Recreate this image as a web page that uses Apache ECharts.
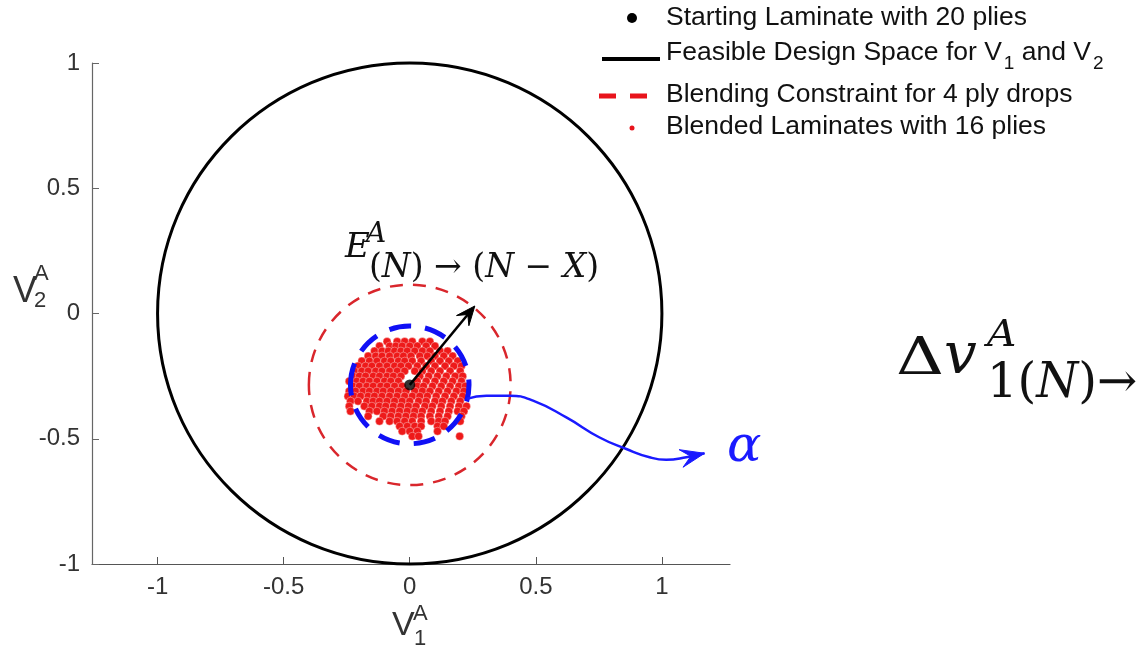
<!DOCTYPE html>
<html>
<head>
<meta charset="utf-8">
<title>Blending constraint</title>
<script src="https://cdn.jsdelivr.net/npm/echarts@6/dist/echarts.min.js"></script>
<style>
html, body { margin: 0; padding: 0; background: #fff; }
#divBlendChart { width: 1147px; height: 650px; }
</style>
</head>
<body>
<div id="divBlendChart"></div>
<script>
var xTicks = [-1, -0.5, 0, 0.5, 1];
var yTicks = [-1, -0.5, 0, 0.5, 1];

// starting laminate with 20 plies
var startPoint = [0, -0.285];

// circles as [cx, cy, r]
var feasibleCircle = [0, 0, 1];
var blendCircle = [0, -0.285, 0.4];
var alphaCircle = [0, -0.285, 0.235];

// arrow start laminate -> blending circle  [x0, y0, x1, y1]
var radiusArrow = [0, -0.285, 0.258, 0.03];

// blue curve going out to alpha
var alphaCurve = [
    [0.225, -0.341], [0.304, -0.328], [0.396, -0.328], [0.489, -0.348],
    [0.621, -0.415], [0.753, -0.495], [0.859, -0.541], [0.951, -0.574],
    [1.017, -0.584], [1.097, -0.574], [1.169, -0.558]
];

// blended laminates with 16 plies, one row per y
var blendedRows = [
    [-0.112, [-0.09, -0.05, -0.02, 0.01, 0.05, 0.08]],
    [-0.130, [-0.12, -0.08, -0.055, -0.03, 0.00, 0.03, 0.065, 0.10]],
    [-0.150, [-0.14, -0.11, -0.085, -0.06, -0.035, -0.01, 0.02, 0.05, 0.08, 0.12, 0.15]],
    [-0.170, [-0.165, -0.135, -0.11, -0.08, -0.05, -0.025, 0.005, 0.04, 0.07, 0.10, 0.135, 0.17]],
    [-0.190, [-0.19, -0.16, -0.13, -0.10, -0.075, -0.045, -0.02, 0.01, 0.045, 0.085, 0.12, 0.155, 0.19]],
    [-0.210, [-0.205, -0.175, -0.15, -0.12, -0.09, -0.06, -0.035, -0.005, 0.03, 0.065, 0.10, 0.14, 0.175, 0.205]],
    [-0.230, [-0.22, -0.19, -0.165, -0.135, -0.11, -0.08, -0.05, -0.02, 0.02, 0.05, 0.085, 0.12, 0.16, 0.20]],
    [-0.250, [-0.225, -0.20, -0.175, -0.145, -0.12, -0.09, -0.065, -0.035, 0.04, 0.075, 0.11, 0.145, 0.18, 0.21]],
    [-0.270, [-0.24, -0.21, -0.185, -0.16, -0.13, -0.10, -0.075, -0.045, 0.03, 0.065, 0.10, 0.135, 0.17, 0.205]],
    [-0.290, [-0.225, -0.20, -0.17, -0.145, -0.115, -0.09, -0.06, -0.03, 0.03, 0.055, 0.09, 0.125, 0.16, 0.195, 0.22]],
    [-0.310, [-0.24, -0.215, -0.185, -0.16, -0.13, -0.105, -0.075, -0.045, -0.015, 0.02, 0.05, 0.08, 0.115, 0.15, 0.185, 0.215]],
    [-0.330, [-0.245, -0.22, -0.195, -0.165, -0.14, -0.11, -0.08, -0.05, -0.02, 0.01, 0.04, 0.07, 0.105, 0.14, 0.175, 0.21]],
    [-0.350, [-0.235, -0.205, -0.17, -0.145, -0.12, -0.09, -0.06, -0.03, 0.00, 0.035, 0.065, 0.10, 0.13, 0.165, 0.20]],
    [-0.370, [-0.24, -0.18, -0.15, -0.12, -0.095, -0.065, -0.035, -0.005, 0.025, 0.06, 0.09, 0.125, 0.16, 0.195, 0.225]],
    [-0.390, [-0.235, -0.16, -0.13, -0.10, -0.07, -0.04, -0.01, 0.02, 0.05, 0.085, 0.12, 0.155, 0.19, 0.215]],
    [-0.410, [-0.165, -0.105, -0.075, -0.045, -0.015, 0.015, 0.045, 0.08, 0.115, 0.15, 0.205]],
    [-0.430, [-0.12, -0.08, -0.05, -0.02, 0.01, 0.045, 0.085, 0.115, 0.14, 0.20]],
    [-0.450, [-0.04, -0.01, 0.02, 0.045, 0.11, 0.135]],
    [-0.470, [-0.03, 0.00, 0.03, 0.11]],
    [-0.490, [0.01, 0.035, 0.198]]
];

var blendedPoints = [];
for (var i = 0; i < blendedRows.length; i++) {
    var xs = blendedRows[i][1];
    for (var j = 0; j < xs.length; j++) {
        blendedPoints.push([xs[j], blendedRows[i][0]]);
    }
}

var SANS = 'Liberation Sans, Arial, sans-serif';
var SERIF = 'DejaVu Serif, Liberation Serif, serif';

function circleRenderer(stroke, width, dash) {
    return function (params, api) {
        var c = api.coord([api.value(0), api.value(1)]);
        var s = api.size([api.value(2), api.value(2)]);
        return {
            type: 'ellipse',
            shape: { cx: c[0], cy: c[1], rx: s[0], ry: s[1] },
            style: { fill: null, stroke: stroke, lineWidth: width, lineDash: dash }
        };
    };
}

function arrowRenderer(color, width, head, half, notch, withShaft) {
    return function (params, api) {
        var p0 = api.coord([api.value(0), api.value(1)]);
        var p1 = api.coord([api.value(2), api.value(3)]);
        var dx = p1[0] - p0[0], dy = p1[1] - p0[1];
        var len = Math.sqrt(dx * dx + dy * dy);
        var ux = dx / len, uy = dy / len;
        var bx = p1[0] - ux * head, by = p1[1] - uy * head;
        var nx = p1[0] - ux * notch, ny = p1[1] - uy * notch;
        var children = [];
        if (withShaft) {
            children.push({
                type: 'line',
                shape: { x1: p0[0], y1: p0[1], x2: nx, y2: ny },
                style: { stroke: color, lineWidth: width }
            });
        }
        children.push({
            type: 'polygon',
            shape: { points: [p1, [bx - uy * half, by + ux * half], [nx, ny], [bx + uy * half, by - ux * half]] },
            style: { fill: color, stroke: color, lineWidth: 1 }
        });
        return { type: 'group', children: children };
    };
}

function textEl(x, y, text, rich, extra, scaleX) {
    var style = { text: text, verticalAlign: 'middle', align: 'left', rich: rich };
    for (var k in extra) style[k] = extra[k];
    return { type: 'text', x: x, y: y, z: 100, scaleX: scaleX || 1, style: style };
}

var legendFont = { fontSize: 26.5, fontFamily: SANS, fill: '#111' };
var legendSub = { fontSize: 19, fontFamily: SANS, fill: '#111', padding: [22, 0, 0, 2] };
var mathN = function (fs) { return { fontSize: fs, fontFamily: SERIF, fill: '#111' }; };
var mathI = function (fs) { return { fontSize: fs, fontFamily: SERIF, fontStyle: 'italic', fill: '#111' }; };

var chart = echarts.init(document.getElementById('divBlendChart'));
var n = alphaCurve.length;
var option = {
    animation: false,
    backgroundColor: '#fff',
    grid: { left: 92, right: 417, top: 63, bottom: 86 },
    xAxis: {
        type: 'value', min: -1.26, max: 1.27,
        axisLine: { show: true, onZero: false, lineStyle: { color: '#555', width: 1.2 } },
        axisTick: { show: true, inside: true, length: 7, customValues: xTicks, lineStyle: { color: '#555' } },
        axisLabel: { customValues: xTicks, fontSize: 24, color: '#333', margin: 11, fontFamily: SANS },
        splitLine: { show: false }
    },
    yAxis: {
        type: 'value', min: -1, max: 1,
        axisLine: { show: true, onZero: false, lineStyle: { color: '#666', width: 1.2 } },
        axisTick: { show: true, inside: true, length: 7, customValues: yTicks, lineStyle: { color: '#666' } },
        axisLabel: { customValues: yTicks, fontSize: 24, color: '#333', margin: 12, fontFamily: SANS },
        splitLine: { show: false }
    },
    graphic: [
        // legend
        { type: 'circle', shape: { cx: 632, cy: 18, r: 5 }, style: { fill: '#000' }, z: 100 },
        textEl(666, 18, 'Starting Laminate with 20 plies', null, legendFont),
        { type: 'line', shape: { x1: 602, y1: 59, x2: 660, y2: 59 }, style: { stroke: '#000', lineWidth: 4 }, z: 100 },
        textEl(666, 53, '{t|Feasible Design Space for V}{s|1}{t| and V}{s|2}', { t: legendFont, s: legendSub }, legendFont),
        { type: 'line', shape: { x1: 599, y1: 96, x2: 650, y2: 96 }, style: { stroke: '#e8141c', lineWidth: 5, lineDash: [17, 14] }, z: 100 },
        textEl(666, 95, 'Blending Constraint for 4 ply drops', null, legendFont),
        { type: 'circle', shape: { cx: 632, cy: 128, r: 2.5 }, style: { fill: '#e8141c' }, z: 100 },
        textEl(666, 127, 'Blended Laminates with 16 plies', null, legendFont),
        // axis names
        textEl(13, 292, 'V', null, { fontSize: 36, fontFamily: SANS, fill: '#333' }),
        textEl(34, 274, 'A', null, { fontSize: 22, fontFamily: SANS, fill: '#333' }),
        textEl(34, 301, '2', null, { fontSize: 22, fontFamily: SANS, fill: '#333' }),
        textEl(392, 626, 'V', null, { fontSize: 34, fontFamily: SANS, fill: '#333' }),
        textEl(413, 614, 'A', null, { fontSize: 22, fontFamily: SANS, fill: '#333' }),
        textEl(414, 639, '1', null, { fontSize: 22, fontFamily: SANS, fill: '#333' }),
        // E annotation
        textEl(345, 248, 'E', null, mathI(34)),
        textEl(366, 235, 'A', null, mathI(28)),
        textEl(369, 268, '{n|(}{i|N}{n|) → (}{i|N}{n| − }{i|X}{n|)}', { n: mathN(33), i: mathI(33) }, { fontSize: 33, fontFamily: SERIF }),
        // alpha
        textEl(727, 448, 'α', null, { fontSize: 51, fontFamily: SERIF, fontStyle: 'italic', fill: '#1a1aff' }),
        // delta v text on the right
        textEl(896, 360, 'Δ', null, mathN(52), 1.28),
        textEl(944, 358, 'v', null, mathI(58)),
        textEl(987, 336, 'A', null, mathI(37), 1.1),
        textEl(987, 385, '{n|1(}{i|N}{n|)→}', { n: mathN(48), i: mathI(48) }, { fontSize: 48, fontFamily: SERIF })
    ],
    series: [
        {
            name: 'Feasible Design Space', type: 'custom', z: 2,
            renderItem: circleRenderer('#000', 3, null),
            data: [feasibleCircle]
        },
        {
            name: 'Blending Constraint', type: 'custom', z: 2,
            renderItem: circleRenderer('#d9262c', 2.5, [13, 10]),
            data: [blendCircle]
        },
        {
            name: 'Blended Laminates', type: 'scatter', z: 3,
            symbolSize: 8,
            itemStyle: { color: '#ee1a1a', borderColor: 'rgba(255,255,255,0.6)', borderWidth: 0.6, opacity: 1 },
            data: blendedPoints
        },
        {
            name: 'alpha circle', type: 'custom', z: 4,
            renderItem: circleRenderer('#1010f5', 5, [22, 14]),
            data: [alphaCircle]
        },
        {
            name: 'alpha curve', type: 'line', z: 4,
            smooth: true, showSymbol: false,
            lineStyle: { color: '#1a1aff', width: 2.5 },
            data: alphaCurve
        },
        {
            name: 'alpha head', type: 'custom', z: 5,
            renderItem: arrowRenderer('#1a1aff', 2.5, 24, 9, 14, false),
            data: [[alphaCurve[n - 2][0], alphaCurve[n - 2][1], alphaCurve[n - 1][0], alphaCurve[n - 1][1]]]
        },
        {
            name: 'radius arrow', type: 'custom', z: 5,
            renderItem: arrowRenderer('#000', 2.5, 19, 8, 11, true),
            data: [radiusArrow]
        },
        {
            name: 'Starting Laminate', type: 'scatter', z: 6,
            symbolSize: 11,
            itemStyle: { color: '#000' },
            data: [startPoint]
        }
    ]
};
chart.setOption(option);
</script>
</body>
</html>
